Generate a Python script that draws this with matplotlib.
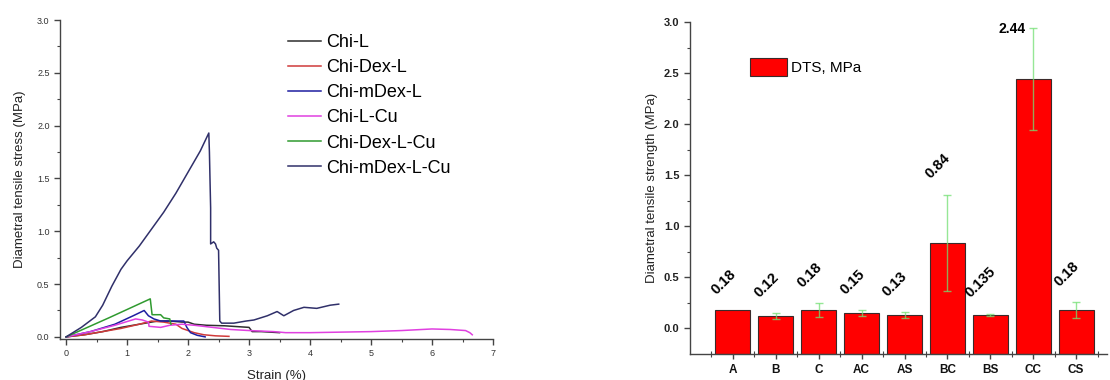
import matplotlib
matplotlib.use("Agg")
import matplotlib.pyplot as plt
from matplotlib.ticker import MultipleLocator, FixedLocator
from matplotlib.patches import Patch
import numpy as np

plt.rcParams['font.family'] = ['Liberation Sans', 'DejaVu Sans']

# ---------------- data: stress-strain curves ----------------
series_names = ["Chi-L", "Chi-Dex-L", "Chi-mDex-L", "Chi-L-Cu", "Chi-Dex-L-Cu", "Chi-mDex-L-Cu"]

chiL_x = [0, 0.3, 0.6, 0.9, 1.2, 1.5, 1.7, 1.9, 2.0, 2.1, 2.3, 2.6, 3.0, 3.05, 3.2, 3.5]
chiL_y = [0, 0.02, 0.05, 0.09, 0.12, 0.15, 0.15, 0.14, 0.14, 0.12, 0.11, 0.105, 0.09, 0.05, 0.05, 0.04]

chiDexL_x = [0, 0.3, 0.6, 0.9, 1.2, 1.4, 1.6, 1.8, 1.9, 2.0, 2.1, 2.26, 2.45, 2.67]
chiDexL_y = [0, 0.02, 0.05, 0.08, 0.12, 0.15, 0.14, 0.12, 0.08, 0.06, 0.04, 0.02, 0.01, 0.005]

chimDexL_x = [0, 0.4, 0.8, 1.1, 1.28, 1.35, 1.44, 1.55, 1.7, 1.93, 1.98, 2.04, 2.15, 2.28]
chimDexL_y = [0, 0.05, 0.12, 0.2, 0.25, 0.2, 0.17, 0.15, 0.15, 0.15, 0.09, 0.04, 0.015, 0.0]

chiLCu_x = [0, 0.4, 0.8, 1.14, 1.25, 1.35, 1.36, 1.55, 1.7, 1.9, 2.1, 2.4, 2.7, 3.0, 3.4, 3.6, 4.0, 4.5, 5.0, 5.5, 6.0, 6.3, 6.55, 6.62, 6.66]
chiLCu_y = [0, 0.05, 0.11, 0.17, 0.16, 0.14, 0.1, 0.09, 0.11, 0.12, 0.11, 0.09, 0.07, 0.06, 0.05, 0.04, 0.04, 0.045, 0.05, 0.06, 0.075, 0.07, 0.06, 0.04, 0.02]

chiDexLCu_x = [0, 0.7, 1.38, 1.41, 1.55, 1.6, 1.7, 1.71, 1.72]
chiDexLCu_y = [0, 0.18, 0.36, 0.21, 0.21, 0.18, 0.17, 0.14, 0.12]

chimDexLCu_x = [0, 0.25, 0.48, 0.6, 0.75, 0.9, 1.0, 1.2, 1.4, 1.6, 1.8, 2.0, 2.2, 2.34, 2.35, 2.36, 2.37, 2.37, 2.42, 2.45, 2.47, 2.5, 2.52, 2.55,
                2.75, 2.95, 3.08, 3.3, 3.46, 3.57, 3.73, 3.9, 4.11, 4.33, 4.47]
chimDexLCu_y = [0, 0.09, 0.19, 0.3, 0.48, 0.64, 0.72, 0.86, 1.02, 1.18, 1.36, 1.56, 1.76, 1.93, 1.75, 1.48, 1.22, 0.88, 0.9, 0.88, 0.84, 0.82, 0.15, 0.13,
                0.13, 0.15, 0.16, 0.2, 0.24, 0.2, 0.25, 0.28, 0.27, 0.3, 0.31]

# ---------------- data: bar chart ----------------
categories = ["A", "B", "C", "AC", "AS", "BC", "BS", "CC", "CS"]
dts_values = [0.18, 0.12, 0.18, 0.15, 0.13, 0.84, 0.135, 2.44, 0.18]
dts_errors = [0.0, 0.03, 0.07, 0.03, 0.03, 0.47, 0.01, 0.5, 0.08]

W, H = 1110, 380
fig = plt.figure(figsize=(W / 100, H / 100), dpi=100)

# ---------------- left: curves ----------------
ax1 = fig.add_axes([60 / W, 1 - 339 / H, (493 - 60) / W, (339 - 20) / H])
curves = [(chiL_x, chiL_y), (chiDexL_x, chiDexL_y), (chimDexL_x, chimDexL_y),
          (chiLCu_x, chiLCu_y), (chiDexLCu_x, chiDexLCu_y), (chimDexLCu_x, chimDexLCu_y)]
colors = ["#2e2e2e", "#d03a3a", "#1e1ea0", "#e040e0", "#2f9a2f", "#30306a"]
for (xs, ys), c, name in zip(curves, colors, series_names):
    ax1.plot(xs, ys, color=c, lw=1.1, label=name)
ax1.set_xlim(-0.1, 7)
ax1.set_ylim(-0.02, 3.0)
ax1.spines['top'].set_visible(False)
ax1.spines['right'].set_visible(False)
for s in ['left', 'bottom']:
    ax1.spines[s].set_color('#444444')
    ax1.spines[s].set_linewidth(1.0)
ax1.xaxis.set_major_locator(MultipleLocator(1))
ax1.xaxis.set_minor_locator(MultipleLocator(0.5))
ax1.yaxis.set_major_locator(MultipleLocator(0.5))
ax1.yaxis.set_minor_locator(MultipleLocator(0.25))
ax1.yaxis.set_major_formatter(matplotlib.ticker.FormatStrFormatter('%.1f'))
ax1.tick_params(which='major', direction='out', length=4, width=1, colors='#444444', labelsize=6.5, labelcolor='#333333')
ax1.tick_params(which='minor', direction='out', length=2.5, width=0.8, colors='#444444')
ax1.set_xlabel("Strain (%)", fontsize=9.5, color='#222222', labelpad=8)
ax1.set_ylabel("Diametral tensile stress (MPa)", fontsize=9.5, color='#222222', labelpad=8)
ax1.legend(loc='upper left', bbox_to_anchor=(288 / W, 1 - 34 / H), bbox_transform=fig.transFigure,
           frameon=False, fontsize=13, handlelength=1.8, handletextpad=0.3, labelspacing=0.45,
           borderpad=0, borderaxespad=0)

# ---------------- right: bars ----------------
ax2 = fig.add_axes([690 / W, 1 - 354 / H, (1107 - 690) / W, (354 - 22) / H])
y_bottom = -0.25
xpos = np.arange(1, len(categories) + 1)
vals = np.array(dts_values)
errs = np.array(dts_errors)
ax2.bar(xpos, vals - y_bottom, bottom=y_bottom, width=0.82, color='#ff0000', edgecolor='#3a2a2a',
        linewidth=0.8, zorder=2)
has_err = errs > 0
ax2.errorbar(xpos[has_err], vals[has_err], yerr=errs[has_err], fmt='none', ecolor=(0.45, 0.88, 0.45),
             alpha=0.75, elinewidth=1.0, capsize=3, capthick=1.0, zorder=3)
for xp, v, e in zip(xpos, dts_values, dts_errors):
    lbl = f"{v:g}"
    if v > 2:
        ax2.text(xp - 0.5, v + e - 0.01, lbl, ha='center', va='center', fontsize=10, fontweight='bold')
    else:
        ax2.text(xp - 0.22, v + e + 0.13, lbl, ha='center', va='bottom', rotation=45,
                 fontsize=10.5, fontweight='bold')
ax2.set_xlim(0, 9.72)
ax2.set_ylim(y_bottom, 3.0)
ax2.spines['top'].set_visible(False)
ax2.spines['right'].set_visible(False)
for s in ['left', 'bottom']:
    ax2.spines[s].set_color('#444444')
    ax2.spines[s].set_linewidth(1.0)
ax2.set_xticks(xpos)
ax2.set_xticklabels(categories, fontsize=8.5, fontweight='bold')
ax2.xaxis.set_minor_locator(FixedLocator(np.arange(0.5, 10, 1.0)))
ax2.yaxis.set_major_locator(FixedLocator([0, 0.5, 1.0, 1.5, 2.0, 2.5, 3.0]))
ax2.yaxis.set_minor_locator(FixedLocator([0.25, 0.75, 1.25, 1.75, 2.25, 2.75]))
ax2.yaxis.set_major_formatter(matplotlib.ticker.FormatStrFormatter('%.1f'))
for t in ax2.get_yticklabels():
    t.set_fontweight('bold')
ax2.tick_params(axis='y', which='major', direction='out', length=4, width=1, colors='#444444', labelsize=8, labelcolor='#222222')
ax2.tick_params(axis='y', which='minor', direction='out', length=2.5, width=0.8, colors='#444444')
ax2.tick_params(axis='x', which='major', direction='inout', length=7, width=1, colors='#444444', labelcolor='#111111', pad=4)
ax2.tick_params(axis='x', which='minor', direction='inout', length=4, width=0.8, colors='#444444')
ax2.set_ylabel("Diametral tensile strength (MPa)", fontsize=9.5, color='#222222', labelpad=4)
ax2.legend(handles=[Patch(facecolor='#ff0000', edgecolor='#3a2a2a', linewidth=0.8, label='DTS, MPa')],
           loc='upper left', bbox_to_anchor=(750 / W, 1 - 58 / H), bbox_transform=fig.transFigure,
           frameon=False, fontsize=11, handlelength=2.4, handleheight=1.4, handletextpad=0.3,
           borderpad=0, borderaxespad=0)

fig.savefig("out.png", dpi=100)
